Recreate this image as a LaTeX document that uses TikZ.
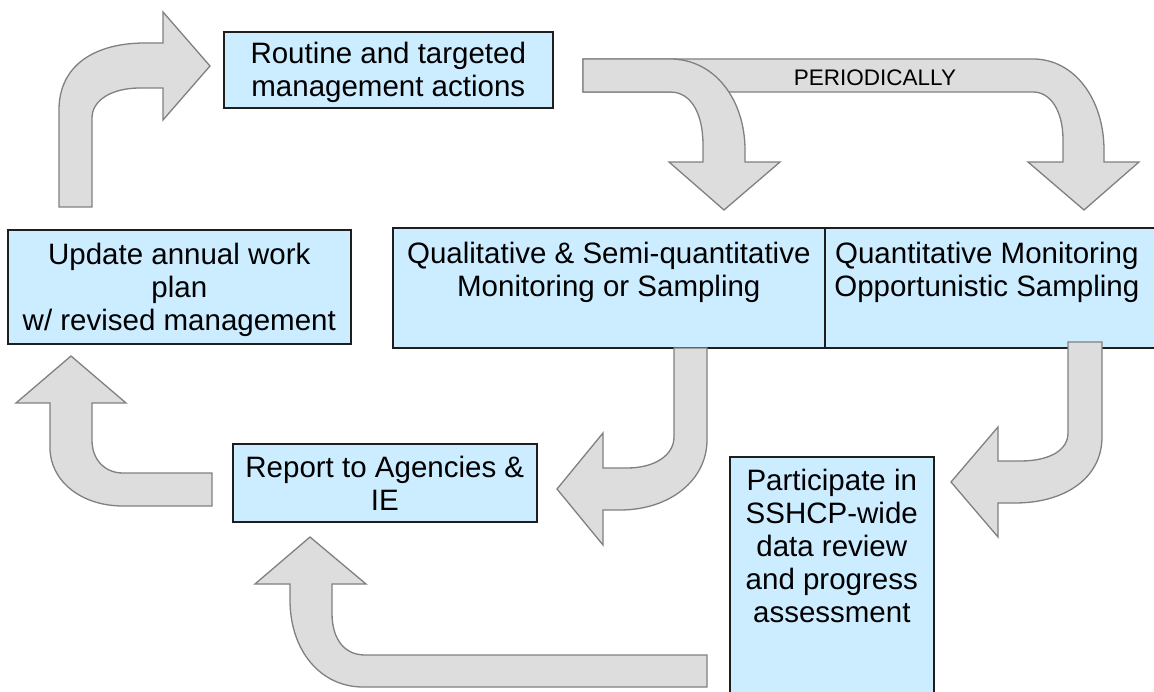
\documentclass[tikz,border=0pt]{standalone}
\usepackage{fontspec}
\setmainfont{Liberation Sans}
\usepackage{tikz}
\usetikzlibrary{positioning,calc}
\definecolor{boxblue}{RGB}{204,236,255}
\definecolor{boxline}{RGB}{30,30,30}
\definecolor{arrowfill}{RGB}{221,221,221}
\definecolor{arrowline}{RGB}{128,128,128}
\tikzset{
  box/.style      = {draw=boxline, line width=1.6pt, fill=boxblue, anchor=north west, inner sep=0pt},
  txt/.style      = {align=center, inner sep=0pt, font=\fontsize{29.5}{33}\selectfont},
  bigarrow/.style = {fill=arrowfill, draw=arrowline, line width=1.3pt, line join=miter},
}

\begin{document}
\begin{tikzpicture}[x=1pt, y=-1pt]
  \useasboundingbox (0,0) rectangle (1154,692);

  % boxes
  \node[box, minimum width=329pt, minimum height=76pt] (act) at (223,31) {};
  \node[box, minimum width=343pt, minimum height=114pt] (plan) at (7,229) {};
  \node[box, minimum width=432pt, minimum height=120pt] (qual) at (392,227) {};
  \node[box, minimum width=340pt, minimum height=120pt] (quant) at (824,227) {};
  \node[box, minimum width=304pt, minimum height=78pt] (rep) at (232,443) {};
  \node[box, minimum width=204pt, minimum height=260pt] (part) at (729,456) {};

  \node[txt] (act-t) at ([yshift=-3pt]act.center) {Routine and targeted\\management actions};
  \node[txt] (plan-t) at ([yshift=-3pt]plan.center) {Update annual work\\plan\\w/ revised management};
  \node[txt, anchor=north] (qual-t) at ([yshift=-15pt]qual.north) {Qualitative \& Semi-quantitative\\Monitoring or Sampling};
  \node[txt, anchor=north] (quant-t) at ([xshift=-8pt,yshift=-15pt]quant.north) {Quantitative Monitoring\\Opportunistic Sampling};
  \node[txt, anchor=north] (rep-t) at ([yshift=-13pt]rep.north) {Report to Agencies \&\\IE};
  \node[txt, anchor=north] (part-t) at ([yshift=-13pt]part.north) {Participate in\\SSHCP-wide\\data review\\and progress\\assessment};

  % plan -> actions
  \draw[bigarrow] (59,207) -- (59,110) .. controls (59,65) and (95,43) .. (145,43) -- (163,43) -- (163,12)
    -- (210,66) -- (163,120) -- (163,88) -- (140,88) .. controls (112,88) and (92,100) .. (92,118) -- (92,207) -- cycle;

  % actions -> quantitative (periodically)
  \draw[bigarrow] (583,59) -- (1033,59) .. controls (1075,59) and (1104,100) .. (1104,150) -- (1104,162) -- (1139,162)
    -- (1084,210) -- (1028,162) -- (1063,162) -- (1063,140) .. controls (1063,110) and (1050,92) .. (1033,92) -- (583,92) -- cycle;
  \node[inner sep=0pt, font=\fontsize{22.5}{24}\selectfont] (per) at (875,78) {PERIODICALLY};

  % actions -> qualitative
  \draw[bigarrow] (583,59) -- (670,59) .. controls (715,59) and (745,100) .. (745,150) -- (745,162) -- (780,162)
    -- (724,210) -- (669,162) -- (703,162) -- (703,145) .. controls (703,115) and (692,92) .. (670,92) -- (583,92) -- cycle;

  % qualitative -> report
  \draw[bigarrow] (674,348) -- (707,348) -- (707,440) .. controls (707,480) and (670,510) .. (620,510) -- (603,510) -- (603,545)
    -- (557,489) -- (603,433) -- (603,468) -- (627,468) .. controls (655,468) and (674,455) .. (674,437) -- cycle;

  % quantitative -> participate
  \draw[bigarrow] (1068,342) -- (1102,342) -- (1102,437) .. controls (1102,478) and (1065,503) .. (1015,503) -- (998,503) -- (998,537)
    -- (951,482) -- (998,427) -- (998,461) -- (1020,461) .. controls (1050,461) and (1068,450) .. (1068,433) -- cycle;

  % participate -> report
  \draw[bigarrow] (707,655) -- (707,687) -- (363,687) .. controls (320,687) and (290,650) .. (290,600) -- (290,584) -- (255,584)
    -- (310,537) -- (366,584) -- (332,584) -- (332,613) .. controls (332,640) and (345,655) .. (365,655) -- cycle;

  % report -> plan
  \draw[bigarrow] (212,473) -- (212,506) -- (123,506) .. controls (80,506) and (50,480) .. (50,448) -- (50,403) -- (16,403)
    -- (71,356) -- (126,403) -- (92,403) -- (92,440) .. controls (92,460) and (105,473) .. (123,473) -- cycle;
\end{tikzpicture}
\end{document}
